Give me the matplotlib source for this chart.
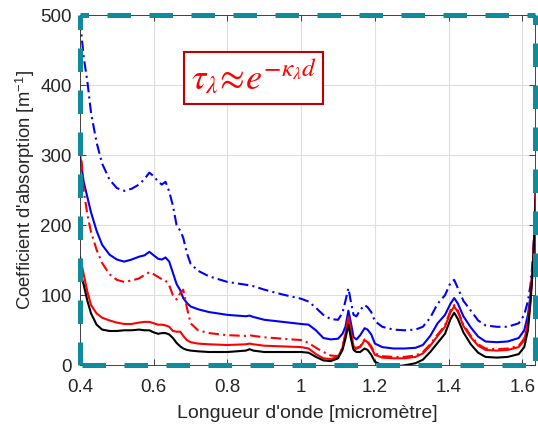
import matplotlib
matplotlib.use('Agg')
from matplotlib import pyplot as plt
from matplotlib.ticker import FormatStrFormatter

plt.rcParams['font.family'] = ['Liberation Sans', 'DejaVu Sans']
plt.rcParams['mathtext.fontset'] = 'stix'

# wavelength grid [micrometre]
wl = [0.400, 0.410, 0.420, 0.430, 0.445, 0.460, 0.480, 0.500, 0.520, 0.540,
      0.560, 0.575, 0.588, 0.600, 0.612, 0.622, 0.632, 0.642, 0.652, 0.662,
      0.672, 0.680, 0.690, 0.700, 0.720, 0.750, 0.800, 0.850, 0.860, 0.870,
      0.900, 0.950, 1.000, 1.020, 1.040, 1.060, 1.080, 1.100, 1.112, 1.120,
      1.128, 1.135, 1.142, 1.150, 1.160, 1.172, 1.180, 1.190, 1.200, 1.220,
      1.250, 1.280, 1.310, 1.330, 1.350, 1.370, 1.390, 1.405, 1.415, 1.425,
      1.440, 1.460, 1.480, 1.500, 1.530, 1.560, 1.590, 1.605, 1.615, 1.622,
      1.628, 1.632, 1.636, 1.640]

# absorption coefficients [m^-1]
blue_dashdot = [493, 440, 405, 360, 318, 288, 265, 253, 249, 252,
                258, 266, 275, 270, 262, 258, 262, 248, 228, 200,
                192, 182, 160, 145, 135, 127, 119, 115, 114, 113,
                108, 101, 95, 91, 82, 72, 66, 65, 75, 92,
                110, 90, 72, 70, 79, 86, 83, 76, 63, 55,
                51, 50, 51, 55, 68, 88, 100, 118, 122, 110,
                92, 78, 64, 57, 55, 55, 60, 72, 92, 115,
                150, 190, 250, 320]
blue_solid = [300, 262, 240, 218, 192, 172, 158, 151, 148, 151,
              155, 157, 162, 157, 152, 151, 154, 148, 132, 116,
              107, 96, 89, 84, 80, 76, 72, 70, 71, 69,
              65, 62, 59, 58, 50, 39, 37, 38, 45, 55,
              78, 60, 40, 37, 43, 53, 51, 44, 31, 26,
              24, 24, 25, 29, 42, 60, 72, 88, 96, 88,
              70, 54, 41, 34, 33, 34, 39, 50, 72, 100,
              140, 180, 235, 300]
red_dashdot = [322, 250, 215, 190, 165, 146, 130, 122, 119, 121,
               124, 129, 133, 130, 126, 123, 121, 114, 100, 94,
               103, 108, 82, 60, 50, 46, 43, 42, 43, 42,
               40, 38, 36, 32, 25, 19, 14, 13, 25, 45,
               68, 45, 20, 25, 27, 37, 34, 27, 17, 13,
               12, 12, 14, 19, 30, 44, 57, 78, 86, 78,
               58, 42, 30, 24, 23, 24, 28, 38, 62, 97,
               142, 187, 247, 312]
red_solid = [155, 130, 105, 86, 74, 68, 64, 61, 59, 59,
             61, 62, 62, 60, 58, 58, 57, 55, 49, 48,
             48, 42, 36, 33, 31, 30, 29, 30, 31, 30,
             28, 27, 26, 24, 16, 10, 9, 12, 25, 45,
             69, 48, 27, 24, 26, 36, 33, 25, 15, 11,
             10, 10, 12, 17, 28, 42, 55, 76, 84, 76,
             56, 40, 28, 22, 21, 22, 26, 36, 60, 95,
             140, 185, 245, 310]
black_solid = [133, 115, 92, 74, 58, 51, 49, 49, 50, 50,
               51, 50, 50, 47, 45, 46, 46, 44, 39, 32,
               27, 24, 22, 21, 20, 19, 19, 21, 23, 21,
               19, 19, 19, 18, 12, 7, 6, 10, 22, 38,
               58, 38, 22, 19, 19, 24, 22, 15, 5, 0,
               -2, 0, 3, 8, 19, 32, 45, 66, 75, 66,
               47, 30, 18, 12, 11, 12, 16, 26, 50, 90,
               135, 180, 240, 300]

xticks = [0.4, 0.6, 0.8, 1.0, 1.2, 1.4, 1.6]
yticks = [0, 100, 200, 300, 400, 500]

fig = plt.figure(figsize=(5.38, 4.24), dpi=100)
ax = fig.add_axes([0.1487, 0.1384, 0.8463, 0.8262])

dashdot = (0, (5, 2, 1, 2))
ax.plot(wl, blue_dashdot, color='#0000ff', lw=1.5, ls=dashdot)
ax.plot(wl, blue_solid, color='#0000ff', lw=1.5)
ax.plot(wl, red_dashdot, color='#ff0000', lw=1.5, ls=dashdot)
ax.plot(wl, red_solid, color='#ff0000', lw=1.5)
ax.plot(wl, black_solid, color='black', lw=1.5)

ax.set_xlim(0.4, 1.635)
ax.set_ylim(0, 500)
ax.set_xticks(xticks)
ax.set_yticks(yticks)
ax.xaxis.set_major_formatter(FormatStrFormatter('%g'))
ax.grid(True, color='#dedede', lw=0.8)
ax.set_axisbelow(True)
ax.tick_params(direction='in', top=True, right=True, length=4, width=0.6,
               colors='#262626', labelsize=13.5, pad=6)
ax.tick_params(axis='x', pad=10)
for s in ax.spines.values():
    s.set_color('#262626')
    s.set_linewidth(0.6)

ax.set_xlabel("Longueur d'onde [micromètre]", fontsize=14, color='#262626', labelpad=6)
ax.set_ylabel(r"Coefficient d'absorption [m$^{\mathregular{-1}}$]", fontsize=13.3,
              color='#262626', labelpad=2)

# formula box
ax.text(0.871, 410, r'$\tau_\lambda\!\approx\!e^{-\kappa_\lambda d}$', color='#ff0000',
        fontsize=26, ha='center', va='center',
        bbox=dict(boxstyle='square,pad=0.18', fc='white', ec='#c00000', lw=1.5))

# dashed teal frame around the plotting area
teal = '#0f8b9d'
frame_lw = 3.6
for (x0, y0, x1, y1, off) in [(0, 1, 1, 1, 3.0), (0, 1, 0, 0, 1.8),
                              (0, 0, 1, 0, 8.0), (1, 1, 1, 0, 2.8)]:
    ax.plot([x0, x1], [y0, y1], transform=ax.transAxes, color=teal, lw=frame_lw,
            ls=(off, (4.7, 3.7)), solid_capstyle='butt', dash_capstyle='butt',
            clip_on=False, zorder=5)

fig.savefig('out.png', dpi=100)
